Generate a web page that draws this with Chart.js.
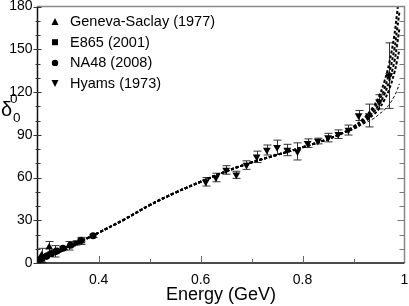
<!DOCTYPE html>
<html>
<head>
<meta charset="utf-8">
<script src="https://cdn.jsdelivr.net/npm/chart.js@4.4.0/dist/chart.umd.min.js"></script>
<style>
  html, body { margin: 0; padding: 0; background: #fff; }
  canvas { display: block; }
</style>
</head>
<body>
<canvas id="phaseChart" width="409" height="306"></canvas>
<script>
// Data
const genevaE   = [0.288, 0.303, 0.315, 0.342, 0.366];
const genevaD   = [5.3, 11.1, 8.2, 12.1, 15.5];
const genevaErr = [5, 4, 4, 3, 2.5];

const e865E   = [0.286, 0.295, 0.304, 0.315, 0.330, 0.355];
const e865D   = [2.4, 4.6, 6.3, 8.2, 10.4, 14];
const e865Err = [1.2, 1.0, 1.0, 1.1, 1.2, 1.4];

const na48E   = [0.287, 0.297, 0.307, 0.318, 0.330, 0.345, 0.365, 0.389];
const na48D   = [2.9, 4.8, 6.6, 8.4, 10.4, 12.4, 15.8, 19.1];
const na48Err = [0.6, 0.6, 0.7, 0.7, 0.8, 0.9, 1.0, 1.2];

const hyamsE   = [0.61, 0.63, 0.65, 0.67, 0.69, 0.71, 0.73, 0.75, 0.77, 0.79,
                  0.81, 0.83, 0.85, 0.87, 0.89, 0.91, 0.93, 0.95, 0.97];
const hyamsD   = [57, 60, 65.3, 61.9, 68.7, 74.5, 79.3, 81.2, 79.3, 78.3,
                  84.1, 85.6, 88, 90.4, 93.3, 103.5, 103.5, 113.1, 131.5];
const hyamsErr = [3, 3, 3, 2.5, 3, 4, 3.5, 5, 4, 6,
                  3, 2, 3, 3, 3.5, 3.5, 8, 5, 23];

// Theory curves (common part, then the spread near 1 GeV)
const curveE    = [0.28, 0.30, 0.32, 0.34, 0.36, 0.38, 0.40, 0.45, 0.50, 0.55, 0.60,
                   0.65, 0.70, 0.75, 0.80, 0.85, 0.88];
const curveBase = [0, 3.6, 7.2, 10.6, 14.2, 17.8, 21.3, 30.5, 40.6, 49.3, 57,
                   64.3, 70.6, 75.9, 81.2, 87, 91.4];
const tailE  = [0.90, 0.92, 0.94, 0.95, 0.96, 0.97, 0.98, 0.985, 0.99];
const tailA  = [95.7, 101.5, 110.2, 117, 126.7, 140.2, 159.6, 174, 188.6];
const tailB  = [95.3, 100.6, 108.3, 114.1, 121.8, 133.4, 149.9, 162.5, 176];
const tailC  = [94.8, 99.6, 106.4, 111.2, 118, 127.6, 141.2, 151.8, 164.4];
const tailD  = [94.3, 98.6, 104.4, 108.3, 114.1, 121.8, 133.4, 141.2, 149.9];
const tailE2 = [93.8, 97.7, 101.5, 104.4, 107.3, 111.2, 117, 120.9, 125.7];

const xTicks = [0.4, 0.5, 0.6, 0.7, 0.8, 0.9, 1.0];
const xLabelTicks = [0.4, 0.6, 0.8, 1.0];

const FONT = '"Liberation Sans", Arial, sans-serif';

function pts(xs, ys) {
    return xs.map((x, i) => ({ x: x, y: ys[i] }));
}

function curve(tail) {
    return pts(curveE.concat(tailE), curveBase.concat(tail));
}

const errorSets = {};

function lineSet(tail, width) {
    return {
        data: curve(tail),
        showLine: true,
        borderColor: '#000',
        borderWidth: width,
        borderDash: [3, 2],
        pointRadius: 0,
        fill: false,
        tension: 0.4,
        isCurve: true
    };
}

function markerSet(label, xs, ys, style, radius, rotation) {
    return {
        label: label,
        data: pts(xs, ys),
        showLine: false,
        pointStyle: style,
        pointRadius: radius,
        pointRotation: rotation || 0,
        backgroundColor: '#000',
        borderColor: '#000',
        borderWidth: 0
    };
}

const datasets = [
    lineSet(tailA, 2),
    lineSet(tailB, 2),
    lineSet(tailC, 2),
    lineSet(tailD, 2),
    lineSet(tailE2, 1),
    markerSet('Geneva-Saclay (1977)', genevaE, genevaD, 'triangle', 4.5),
    markerSet('E865 (2001)', e865E, e865D, 'rect', 3.5),
    markerSet('NA48 (2008)', na48E, na48D, 'circle', 3.5),
    markerSet('Hyams (1973)', hyamsE, hyamsD, 'triangle', 4.5, 180)
];
errorSets[5] = genevaErr;
errorSets[6] = e865Err;
errorSets[7] = na48Err;
errorSets[8] = hyamsErr;

// Error bars drawn from the scales
const errorBarPlugin = {
    id: 'errorBars',
    beforeDatasetsDraw(chart) {
        const ctx = chart.ctx;
        const xs = chart.scales.x, ys = chart.scales.y;
        ctx.save();
        ctx.strokeStyle = '#333';
        ctx.lineWidth = 1;
        Object.keys(errorSets).forEach(idx => {
            const ds = chart.data.datasets[idx];
            const errs = errorSets[idx];
            ds.data.forEach((p, i) => {
                const px = Math.round(xs.getPixelForValue(p.x)) + 0.5;
                const top = ys.getPixelForValue(p.y + errs[i]);
                const bot = ys.getPixelForValue(p.y - errs[i]);
                ctx.beginPath();
                ctx.moveTo(px, top); ctx.lineTo(px, bot);
                ctx.moveTo(px - 4, top); ctx.lineTo(px + 4, top);
                ctx.moveTo(px - 4, bot); ctx.lineTo(px + 4, bot);
                ctx.stroke();
            });
        });
        ctx.restore();
    }
};

// Frame, ticks, legend and the y title
const framePlugin = {
    id: 'frame',
    afterDraw(chart) {
        const ctx = chart.ctx;
        const a = chart.chartArea;
        const xs = chart.scales.x, ys = chart.scales.y;
        ctx.save();

        // top and right border (grey)
        ctx.strokeStyle = '#888';
        ctx.lineWidth = 1.5;
        ctx.beginPath();
        ctx.moveTo(a.left, a.top); ctx.lineTo(a.right, a.top); ctx.lineTo(a.right, a.bottom);
        ctx.stroke();

        // left and bottom border (black)
        ctx.strokeStyle = '#111';
        ctx.beginPath();
        ctx.moveTo(a.left, a.top); ctx.lineTo(a.left, a.bottom); ctx.lineTo(a.right, a.bottom);
        ctx.stroke();

        ctx.lineWidth = 1;
        // left ticks
        ctx.strokeStyle = '#333';
        for (let v = 0; v <= 180; v += 10) {
            const y = Math.round(ys.getPixelForValue(v)) + 0.5;
            const major = v % 30 === 0;
            ctx.beginPath();
            ctx.moveTo(a.left - (major ? 4 : 2), y);
            ctx.lineTo(a.left + (major ? 4 : 3), y);
            ctx.stroke();
        }
        // right ticks (inward)
        ctx.strokeStyle = '#777';
        for (let v = 10; v < 180; v += 10) {
            const y = Math.round(ys.getPixelForValue(v)) + 0.5;
            ctx.beginPath();
            ctx.moveTo(a.right, y);
            ctx.lineTo(a.right - (v % 30 === 0 ? 7 : 5), y);
            ctx.stroke();
        }
        // bottom ticks (inward)
        ctx.strokeStyle = '#666';
        xTicks.forEach(v => {
            if (v >= 1) return;
            const x = Math.round(xs.getPixelForValue(v)) + 0.5;
            const major = xLabelTicks.includes(v);
            ctx.beginPath();
            ctx.moveTo(x, a.bottom);
            ctx.lineTo(x, a.bottom - (major ? 7 : 4));
            ctx.stroke();
        });

        // legend
        ctx.fillStyle = '#000';
        ctx.font = '14.5px ' + FONT;
        ctx.textBaseline = 'middle';
        const legendSets = chart.data.datasets.filter(d => !d.isCurve);
        legendSets.forEach((ds, i) => {
            const y = 21.5 + i * 20.7;
            const x = 55;
            const r = 3.5;
            ctx.beginPath();
            if (ds.pointStyle === 'triangle' && ds.pointRotation === 180) {
                ctx.moveTo(x - r, y - r); ctx.lineTo(x + r, y - r); ctx.lineTo(x, y + r);
            } else if (ds.pointStyle === 'triangle') {
                ctx.moveTo(x - r, y + r); ctx.lineTo(x + r, y + r); ctx.lineTo(x, y - r);
            } else if (ds.pointStyle === 'rect') {
                ctx.rect(x - 3, y - 3, 6, 6);
            } else {
                ctx.arc(x, y, 3.2, 0, Math.PI * 2);
            }
            ctx.fill();
            ctx.fillText(ds.label, 70, y + 0.5);
        });

        // y title: delta with sub- and superscript zero
        ctx.textBaseline = 'alphabetic';
        ctx.font = '20px ' + FONT;
        ctx.fillText('δ', 1, 116);
        ctx.font = '13.5px ' + FONT;
        ctx.fillText('0', 10, 103);
        ctx.fillText('0', 13, 122);

        ctx.restore();
    }
};

new Chart(document.getElementById('phaseChart'), {
    type: 'scatter',
    data: { datasets: datasets },
    options: {
        responsive: false,
        devicePixelRatio: 1,
        animation: false,
        layout: { padding: { top: 6.5, right: 3, left: 0, bottom: 0 } },
        plugins: {
            legend: { display: false },
            tooltip: { enabled: false }
        },
        scales: {
            x: {
                type: 'linear',
                min: 0.28,
                max: 1.0,
                afterBuildTicks: scale => {
                    scale.ticks = xLabelTicks.map(v => ({ value: v }));
                },
                afterFit: scale => {
                    scale.height = 43;
                    scale.paddingLeft = 0;
                    scale.paddingRight = 0;
                },
                grid: { display: false, drawTicks: false },
                border: { display: false },
                ticks: {
                    padding: 9,
                    color: '#000',
                    maxRotation: 0,
                    font: { size: 14, family: FONT },
                    callback: v => (v === 1 ? '1' : v.toFixed(1))
                },
                title: {
                    display: true,
                    text: 'Energy (GeV)',
                    color: '#000',
                    padding: { top: 0, bottom: 0 },
                    font: { size: 18, family: FONT }
                }
            },
            y: {
                min: 0,
                max: 180,
                afterFit: scale => {
                    scale.width = 37.5;
                    scale.paddingTop = 0;
                    scale.paddingBottom = 0;
                },
                grid: { display: false, drawTicks: false },
                border: { display: false },
                ticks: {
                    stepSize: 10,
                    padding: 5,
                    autoSkip: false,
                    color: '#000',
                    font: { size: 14, family: FONT },
                    callback: v => (v % 30 === 0 ? String(v) : '')
                }
            }
        }
    },
    plugins: [errorBarPlugin, framePlugin]
});
</script>
</body>
</html>
